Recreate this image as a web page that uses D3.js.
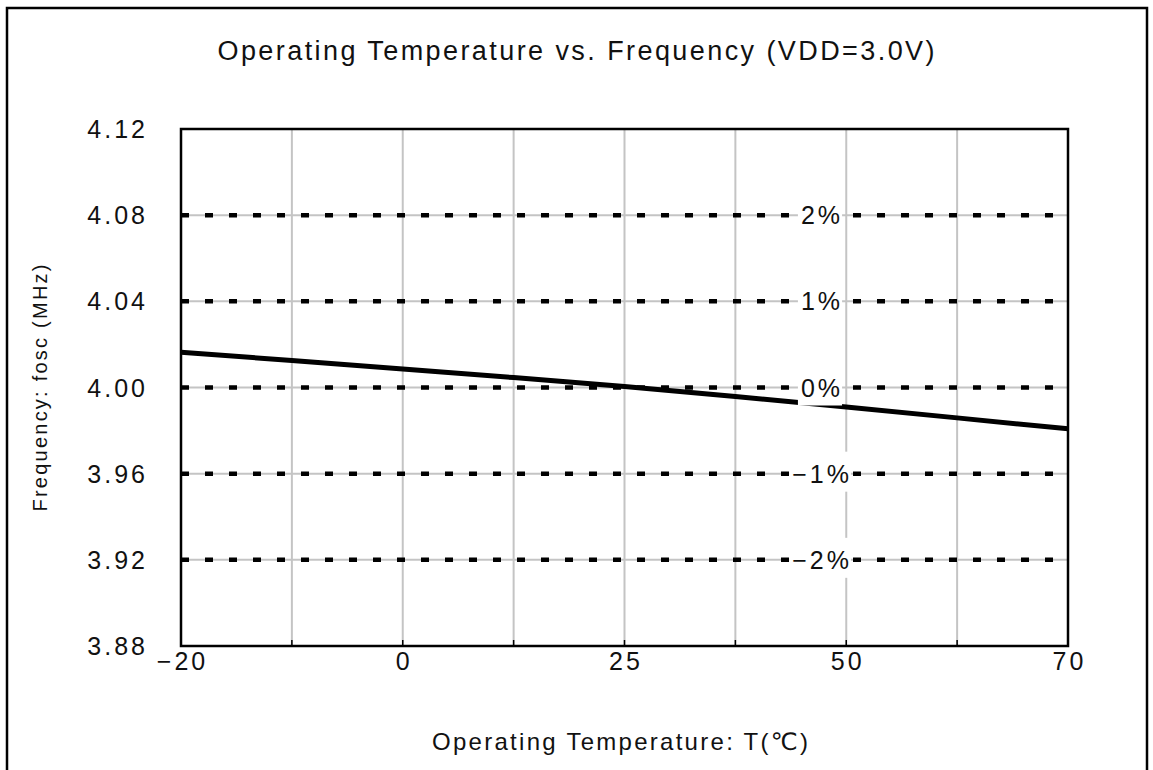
<!DOCTYPE html>
<html>
<head>
<meta charset="utf-8">
<script src="https://cdn.jsdelivr.net/npm/d3@7"></script>
<style>
  html, body { margin: 0; padding: 0; background: #fff; }
  svg { display: block; }
  text { font-family: "Liberation Sans", Arial, "DejaVu Sans", sans-serif; fill: #111; }
</style>
</head>
<body>
<svg id="chart" width="1153" height="770"></svg>
<script>
// ---- data ----
const categories = ["-20", "-10", "0", "12.5", "25", "37.5", "50", "60", "70"];
const tickLabels = ["\u221220", "", "0", "", "25", "", "50", "", "70"];
const frequency = [4.0164, 4.0125, 4.0086, 4.0046, 4.0005, 3.9958, 3.9910, 3.9859, 3.9808];
const yTicks = [3.88, 3.92, 3.96, 4.00, 4.04, 4.08, 4.12];
const refLevels = [4.08, 4.04, 4.00, 3.96, 3.92];
const refLabels = ["2%", "1%", "0%", "\u22121%", "\u22122%"];

(function () {
const svg = d3.select("#chart");
const pL = 181, pR = 1068, pT = 129, pB = 646;

// outer border
svg.append("rect").attr("x", 7).attr("y", 8).attr("width", 1140).attr("height", 800)
  .attr("fill", "#fff").attr("stroke", "#000").attr("stroke-width", 2.5);

const x = d3.scalePoint().domain(categories).range([pL, pR]);
const y = d3.scaleLinear().domain([3.88, 4.12]).range([pB, pT]);

// vertical gridlines
svg.append("g").selectAll("line").data(categories.slice(1, -1)).join("line")
  .attr("x1", d => x(d)).attr("x2", d => x(d)).attr("y1", pT).attr("y2", pB)
  .attr("stroke", "#c4c4c4").attr("stroke-width", 2);

// horizontal gridlines
svg.append("g").selectAll("line").data(yTicks.slice(1, -1)).join("line")
  .attr("x1", pL).attr("x2", pR).attr("y1", d => y(d)).attr("y2", d => y(d))
  .attr("stroke", "#c4c4c4").attr("stroke-width", 2);

// dashed reference lines
svg.append("g").selectAll("line").data(refLevels).join("line")
  .attr("x1", pL).attr("x2", pR).attr("y1", d => y(d)).attr("y2", d => y(d))
  .attr("stroke", "#000").attr("stroke-width", 4.5).attr("stroke-dasharray", "8,16");

// main line
const line = d3.line().x((d, i) => x(categories[i])).y(d => y(d));
svg.append("path").datum(frequency).attr("d", line)
  .attr("fill", "none").attr("stroke", "#000").attr("stroke-width", 5);

// percentage labels with white boxes
const labelX = 822;
const lg = svg.append("g");
refLevels.forEach((lv, i) => {
  const t = lg.append("text").attr("x", labelX).attr("y", y(lv) + 9)
    .attr("text-anchor", "middle").attr("font-size", 25)
    .style("letter-spacing", "3px").text(refLabels[i]);
  const bb = t.node().getBBox();
  lg.insert("rect", "text").attr("x", bb.x - 3).attr("y", y(lv) - 22)
    .attr("width", bb.width + 2).attr("height", 40).attr("fill", "#fff");
});

// plot frame
svg.append("rect").attr("x", pL).attr("y", pT).attr("width", pR - pL).attr("height", pB - pT)
  .attr("fill", "none").attr("stroke", "#000").attr("stroke-width", 2.5);

// x tick marks (inside)
svg.append("g").selectAll("line").data(categories.slice(1, -1)).join("line")
  .attr("x1", d => x(d)).attr("x2", d => x(d)).attr("y1", pB).attr("y2", pB - 6)
  .attr("stroke", "#000").attr("stroke-width", 1.5);

// y tick labels
svg.append("g").selectAll("text").data(yTicks).join("text")
  .attr("x", 148).attr("y", d => y(d) + 9).attr("text-anchor", "end")
  .attr("font-size", 25).style("letter-spacing", "3px")
  .text(d => d.toFixed(2));

// x tick labels
svg.append("g").selectAll("text").data(categories).join("text")
  .attr("x", d => x(d) + 1.5).attr("y", 670).attr("text-anchor", "middle")
  .attr("font-size", 25).style("letter-spacing", "3px")
  .text((d, i) => tickLabels[i]);

// title
svg.append("text").attr("x", 576).attr("y", 60).attr("text-anchor", "middle")
  .attr("font-size", 27).attr("textLength", 717).attr("lengthAdjust", "spacing")
  .text("Operating Temperature vs. Frequency (VDD=3.0V)");

// x axis title
svg.append("text").attr("x", 620).attr("y", 750).attr("text-anchor", "middle")
  .attr("font-size", 24).attr("textLength", 376).attr("lengthAdjust", "spacing")
  .text("Operating Temperature: T(\u2103)");

// y axis title
svg.append("text").attr("transform", "translate(47,388) rotate(-90)").attr("text-anchor", "middle")
  .attr("font-size", 20).attr("textLength", 247).attr("lengthAdjust", "spacing")
  .text("Frequency: fosc (MHz)");
})();
</script>
</body>
</html>
